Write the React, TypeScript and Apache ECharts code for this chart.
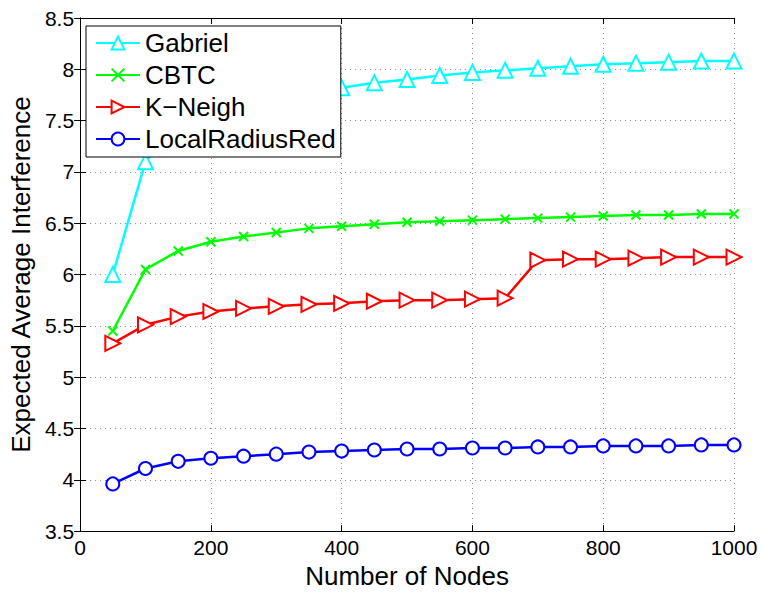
import React, { useEffect, useRef } from "react";
import * as echarts from "echarts";

const nodes = [50, 100, 150, 200, 250, 300, 350, 400, 450, 500, 550, 600, 650, 700, 750, 800, 850, 900, 950, 1000];
const gabriel = [6.0, 7.1, 7.45, 7.6, 7.68, 7.74, 7.79, 7.82, 7.87, 7.9, 7.94, 7.97, 7.99, 8.01, 8.03, 8.05, 8.06, 8.07, 8.08, 8.08];
const cbtc = [5.45, 6.05, 6.23, 6.32, 6.37, 6.41, 6.45, 6.47, 6.49, 6.51, 6.52, 6.53, 6.54, 6.55, 6.56, 6.57, 6.58, 6.58, 6.59, 6.59];
const kneigh = [5.33, 5.51, 5.59, 5.64, 5.67, 5.69, 5.71, 5.72, 5.74, 5.75, 5.75, 5.76, 5.77, 6.14, 6.15, 6.15, 6.16, 6.17, 6.17, 6.17];
const localRadiusRed = [3.96, 4.11, 4.18, 4.21, 4.23, 4.25, 4.27, 4.28, 4.29, 4.3, 4.3, 4.31, 4.31, 4.32, 4.32, 4.33, 4.33, 4.33, 4.34, 4.34];

const seriesNames = ["Gabriel", "CBTC", "K\u2212Neigh", "LocalRadiusRed"];
const xTicks = { min: 0, max: 1000, interval: 200 };
const yTicks = { min: 3.5, max: 8.5, interval: 0.5 };

const FONT = "'Liberation Sans', Arial, Helvetica, sans-serif";

export default function App() {
  const ref = useRef<HTMLDivElement>(null);
  useEffect(() => {
    if (!ref.current) return;
    const chart = echarts.init(ref.current, null, { renderer: "svg" });
    const pair = (ys: number[]) => nodes.map((x, i) => [x, ys[i]]);
    const mk = (name: string, ys: number[], color: string, symbol: string, size: number, rotate = 0, z = 2) => ({
      name,
      type: "line",
      data: pair(ys),
      symbol,
      symbolSize: size,
      symbolRotate: rotate,
      showAllSymbol: true,
      z,
      lineStyle: { color, width: 2.5 },
      itemStyle: { color: "#ffffff", borderColor: color, borderWidth: 2 },
      emphasis: { disabled: true },
    });
    const commonAxis = {
      axisLine: { show: true, lineStyle: { color: "#000", width: 1 } },
      axisTick: { show: true, inside: true, length: 6, lineStyle: { color: "#000" } },
    };
    chart.setOption({
      animation: false,
      backgroundColor: "#fff",
      textStyle: { fontFamily: FONT },
      grid: { left: 79, right: 29, top: 18, bottom: 58, show: false },
      legend: {
        show: true,
        orient: "vertical",
        left: 86,
        top: 26,
        data: seriesNames,
        backgroundColor: "#fff",
        borderColor: "#000",
        borderWidth: 1,
        borderRadius: 0,
        padding: [4, 5, 5, 9],
        itemWidth: 44,
        itemHeight: 16,
        itemGap: 6,
        textStyle: { fontSize: 26, color: "#000", fontFamily: FONT },
        z: 10,
      },
      xAxis: [
        {
          type: "value",
          position: "bottom",
          ...xTicks,
          name: "Number of Nodes",
          nameLocation: "middle",
          nameGap: 29,
          nameTextStyle: { fontSize: 26, color: "#000", fontFamily: FONT },
          ...commonAxis,
          axisLabel: { fontSize: 21, color: "#000", margin: 6, fontFamily: FONT, formatter: (v: number) => String(v) },
          splitLine: { show: true, lineStyle: { color: "#888", type: [1, 4], width: 1 } },
        },
        {
          type: "value",
          position: "top",
          ...xTicks,
          ...commonAxis,
          axisLabel: { show: false },
          splitLine: { show: false },
        },
      ],
      yAxis: [
        {
          type: "value",
          position: "left",
          ...yTicks,
          name: "Expected Average Interference",
          nameLocation: "middle",
          nameGap: 44,
          nameTextStyle: { fontSize: 26, color: "#000", fontFamily: FONT },
          ...commonAxis,
          axisLabel: { fontSize: 21, color: "#000", margin: 6, fontFamily: FONT, formatter: (v: number) => String(v) },
          splitLine: { show: true, lineStyle: { color: "#888", type: [1, 4], width: 1 } },
        },
        {
          type: "value",
          position: "right",
          ...yTicks,
          ...commonAxis,
          axisLabel: { show: false },
          splitLine: { show: false },
        },
      ],
      series: [
        mk(seriesNames[0], gabriel, "#00ffff", "triangle", 15, 0, 2),
        mk(seriesNames[1], cbtc, "#00ff00", "path://M0,0L10,10M10,0L0,10", 9, 0, 3),
        mk(seriesNames[2], kneigh, "#ff0000", "triangle", 15, -90, 4),
        mk(seriesNames[3], localRadiusRed, "#0000ff", "circle", 13, 0, 5),
      ],
    });
    return () => chart.dispose();
  }, []);
  return <div ref={ref} style={{ width: 763, height: 594, position: "absolute", left: 0, top: 0 }} />;
}
